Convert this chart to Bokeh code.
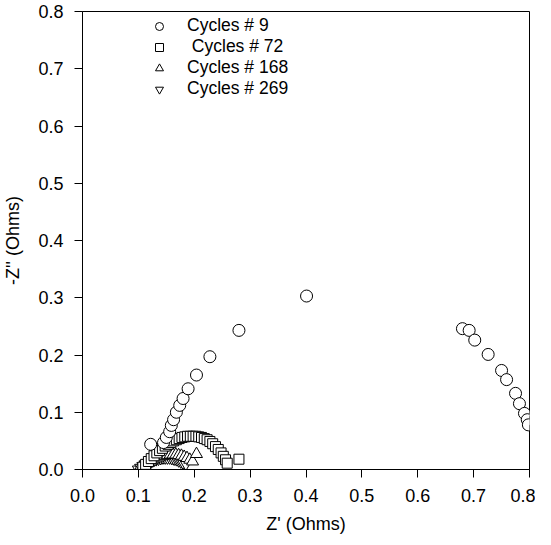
from bokeh.plotting import figure
from bokeh.models import Legend, LegendItem, FixedTicker
from bokeh.embed import file_html
from bokeh.resources import INLINE

# Cycles # 9
c9_x = [0.122, 0.145, 0.150, 0.156, 0.159, 0.163, 0.168, 0.174, 0.180, 0.189, 0.204, 0.228, 0.280,
        0.401, 0.680, 0.692, 0.702, 0.726, 0.750, 0.759, 0.775, 0.782, 0.791, 0.796, 0.798]
c9_y = [0.044, 0.047, 0.056, 0.066, 0.077, 0.087, 0.100, 0.112, 0.124, 0.141, 0.165, 0.197, 0.243,
        0.303, 0.246, 0.243, 0.226, 0.201, 0.173, 0.157, 0.133, 0.115, 0.098, 0.087, 0.078]

# Cycles # 72
c72_x = [0.108, 0.113, 0.118, 0.123, 0.128, 0.133, 0.138, 0.143, 0.148, 0.153, 0.158, 0.163, 0.168,
         0.173, 0.178, 0.183, 0.188, 0.193, 0.198, 0.203, 0.208, 0.213, 0.218, 0.223, 0.228, 0.233,
         0.238, 0.243, 0.248, 0.252, 0.256, 0.259, 0.280]
c72_y = [0.004, 0.009, 0.014, 0.019, 0.024, 0.029, 0.033, 0.037, 0.041, 0.044, 0.047, 0.050, 0.052,
         0.054, 0.056, 0.057, 0.058, 0.058, 0.058, 0.058, 0.057, 0.056, 0.054, 0.052, 0.049, 0.045,
         0.040, 0.035, 0.029, 0.023, 0.017, 0.011, 0.018]

# Cycles # 168
c168_x = [0.102, 0.107, 0.112, 0.117, 0.122, 0.127, 0.132, 0.137, 0.142, 0.147, 0.152, 0.157, 0.162,
          0.167, 0.172, 0.177, 0.182, 0.187, 0.192, 0.197, 0.204]
c168_y = [0.002, 0.005, 0.008, 0.011, 0.014, 0.017, 0.019, 0.021, 0.023, 0.024, 0.025, 0.026, 0.026,
          0.026, 0.025, 0.024, 0.022, 0.020, 0.017, 0.014, 0.027]

# Cycles # 269
c269_x = [0.100, 0.104, 0.108, 0.112, 0.116, 0.120, 0.124, 0.128, 0.132, 0.136, 0.140, 0.144, 0.148,
          0.152, 0.156, 0.160, 0.164, 0.168, 0.172, 0.176, 0.180, 0.185]
c269_y = [0.000, 0.003, 0.006, 0.009, 0.011, 0.013, 0.015, 0.017, 0.018, 0.019, 0.020, 0.021, 0.021,
          0.021, 0.021, 0.020, 0.019, 0.018, 0.016, 0.014, 0.012, 0.010]

labels = ["Cycles # 9", " Cycles # 72", "Cycles # 168", "Cycles # 269"]
ticks = [0.0, 0.1, 0.2, 0.3, 0.4, 0.5, 0.6, 0.7, 0.8]

FONT = "Liberation Sans"

p = figure(width=535, height=537, output_backend="svg", toolbar_location=None,
           x_range=(0, 0.8), y_range=(0, 0.8),
           min_border_left=77, min_border_top=11, min_border_right=6, min_border_bottom=68)
p.grid.visible = False
p.outline_line_color = "black"
p.outline_line_width = 1
p.background_fill_color = "white"
p.border_fill_color = "white"

for ax in (p.xaxis[0], p.yaxis[0]):
    ax.ticker = FixedTicker(ticks=ticks)
    ax.minor_tick_line_color = None
    ax.major_tick_in = 0
    ax.major_tick_out = 8
    ax.major_label_text_font = FONT
    ax.major_label_text_font_size = "18px"
    ax.major_label_text_color = "black"
    ax.axis_label_text_font = FONT
    ax.axis_label_text_font_size = "18px"
    ax.axis_label_text_font_style = "normal"
    ax.axis_label_text_color = "black"
    ax.axis_line_color = "black"
    ax.major_tick_line_color = "black"
p.xaxis.major_label_overrides = {t: f"{t:.1f}" for t in ticks}
p.yaxis.major_label_overrides = {t: f"{t:.1f}" for t in ticks}
p.xaxis.axis_label = "Z' (Ohms)"
p.yaxis.axis_label = "-Z'' (Ohms)"
p.xaxis.major_label_standoff = 11
p.yaxis.major_label_standoff = 11
p.xaxis.axis_label_standoff = 9
p.yaxis.axis_label_standoff = 12

sty = dict(fill_color="white", line_color="black", line_width=1)
r4 = p.scatter(c269_x, c269_y, marker="inverted_triangle", size=12, **sty)
r3 = p.scatter(c168_x, c168_y, marker="triangle", size=12, **sty)
r2 = p.scatter(c72_x, c72_y, marker="square", size=10, **sty)
r1 = p.scatter(c9_x, c9_y, marker="circle", size=12, **sty)

legend = Legend(items=[LegendItem(label=labels[0], renderers=[r1]),
                       LegendItem(label=labels[1], renderers=[r2]),
                       LegendItem(label=labels[2], renderers=[r3]),
                       LegendItem(label=labels[3], renderers=[r4])],
                location=(67, 370), border_line_color=None, background_fill_alpha=0,
                padding=0, margin=0, spacing=0, glyph_width=20, glyph_height=20,
                label_height=20, label_standoff=18, label_text_color="black",
                label_text_font=FONT, label_text_font_size="17.5px")
p.add_layout(legend, "center")

open("out.html", "w").write(file_html(p, INLINE))
